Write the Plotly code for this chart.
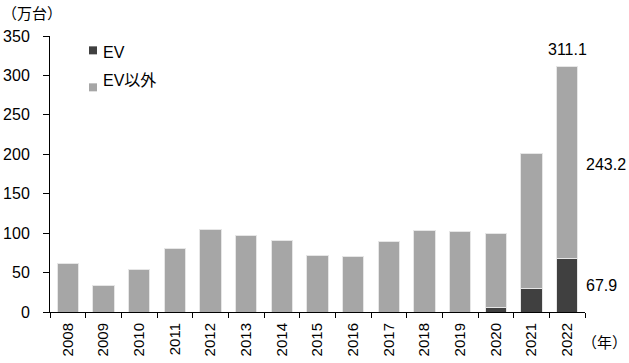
import plotly.graph_objects as go

years = ["2008","2009","2010","2011","2012","2013","2014","2015","2016","2017","2018","2019","2020","2021","2022"]
ev = [0, 0, 0, 0, 0, 0, 0, 0, 0, 0, 0, 0, 6.3, 30.0, 67.9]
total = [61.7, 33.0, 54.0, 80.7, 105.2, 97.6, 90.8, 72.2, 70.1, 89.1, 103.9, 102.2, 99.3, 201.5, 311.1]
non_ev = [round(t - e, 1) for t, e in zip(total, ev)]
non_ev[-1] = 243.2
series_names = ["EV", "EV以外"]
series_colors = ["#404040", "#a6a6a6"]

font_main = "Liberation Sans, Noto Sans CJK JP, sans-serif"
last = len(years) - 1

fig = go.Figure()
for name, vals, col in zip(series_names, [ev, non_ev], series_colors):
    fig.add_trace(go.Bar(x=years, y=vals, name=name,
                         marker=dict(color=col, line=dict(color="#e6e6e6", width=1)), width=0.6))

fig.update_layout(
    barmode="stack",
    width=629, height=363,
    margin=dict(l=50, r=44, t=36, b=51, autoexpand=False),
    paper_bgcolor="white", plot_bgcolor="white",
    font=dict(family=font_main, size=16, color="black"),
    showlegend=False,
    xaxis=dict(type="category", showline=True, linecolor="black", linewidth=1,
               ticks="outside", ticklen=5, tickcolor="black", tickson="boundaries",
               tickangle=-90, showgrid=False, range=[-0.5, last + 0.5],
               tickfont=dict(size=15), ticklabelstandoff=4),
    yaxis=dict(range=[0, 350], dtick=50, showline=True, linecolor="black", linewidth=1,
               ticks="outside", ticklen=6, tickcolor="black", showgrid=False, zeroline=False,
               tickfont=dict(size=16), ticklabelstandoff=10),
)

# legend (manual, to match compact layout)
legend_y = [(0.9565, 0.9275, 0.942), (0.8225, 0.7935, 0.837)]
for (y0, y1, yc), name, col in zip(legend_y, series_names, series_colors):
    fig.add_shape(type="rect", xref="paper", yref="paper", x0=0.0729, x1=0.0879, y0=y1 + 0.006, y1=y0 + 0.006,
                  fillcolor=col, line=dict(width=0))
    fig.add_annotation(xref="paper", yref="paper", x=0.0953, y=yc, text=name, showarrow=False,
                       xanchor="left", yanchor="middle", font=dict(size=16))

fig.add_annotation(x=last, y=total[-1], text=f"{total[-1]:.1f}", showarrow=False, yanchor="bottom", yshift=7, font=dict(size=16))
fig.add_annotation(x=last, y=ev[-1] + non_ev[-1] / 2 - 3, text=f"{non_ev[-1]:.1f}", showarrow=False, xanchor="left", xshift=17, font=dict(size=16))
fig.add_annotation(x=last, y=ev[-1] / 2, text=f"{ev[-1]:.1f}", showarrow=False, xanchor="left", xshift=17, font=dict(size=16))
fig.add_annotation(xref="paper", yref="paper", x=-0.0935, y=1.083, text="（万台）", showarrow=False, xanchor="left", yanchor="middle", font=dict(size=15))
fig.add_annotation(xref="paper", yref="paper", x=1.0822, y=-0.1123, text="（年）", showarrow=False, xanchor="right", yanchor="middle", font=dict(size=15))

fig.write_html("out.html", config={"displayModeBar": False},
               post_script="document.body.style.margin='0';document.body.style.padding='0';")
